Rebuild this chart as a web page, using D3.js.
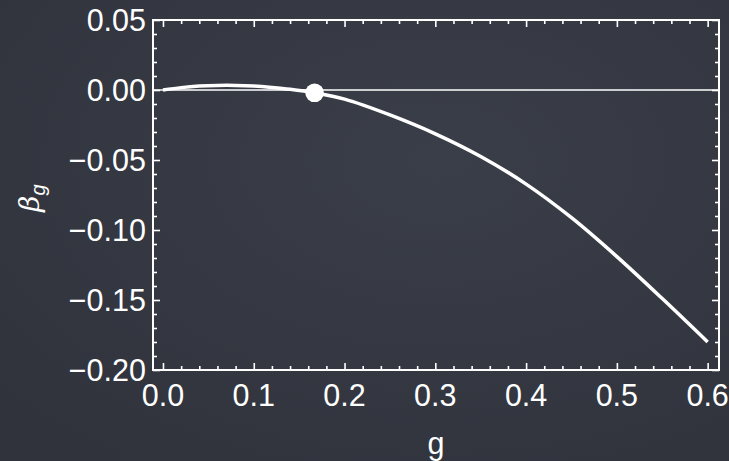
<!DOCTYPE html>
<html><head><meta charset="utf-8">
<script src="https://cdn.jsdelivr.net/npm/d3@7"></script>
<style>
html,body{margin:0;padding:0;background:#363a44;}
svg{display:block;}
</style></head>
<body>
<script>
// Data
const gValues    = [0.00, 0.02, 0.04, 0.06, 0.08, 0.10, 0.12, 0.14, 0.167, 0.20, 0.25, 0.30, 0.35, 0.40, 0.45, 0.50, 0.55, 0.60];
const betaValues = [0.000, 0.0017, 0.0028, 0.0033, 0.0033, 0.0028, 0.0018, 0.0005, -0.002, -0.0065, -0.0178, -0.0313, -0.0475, -0.0672, -0.0912, -0.1190, -0.1490, -0.1800];
const fixedPoint = [0.167, -0.002];
const xTickLabels = [0.0, 0.1, 0.2, 0.3, 0.4, 0.5, 0.6];
const yTickLabels = [0.05, 0.00, -0.05, -0.10, -0.15, -0.20];
const xLabel = "g";

const W = 729, H = 461;
const pLeft = 153, pRight = 719, pTop = 20, pBottom = 370;

const svg = d3.select("body").append("svg").attr("width", W).attr("height", H);

// chalkboard-like background
const defs = svg.append("defs");
const rg = defs.append("radialGradient").attr("id","bg").attr("cx","60%").attr("cy","35%").attr("r","80%");
rg.append("stop").attr("offset","0%").attr("stop-color","#3a3e48");
rg.append("stop").attr("offset","100%").attr("stop-color","#30333c");
svg.append("rect").attr("width", W).attr("height", H).attr("fill", "url(#bg)");

const x = d3.scaleLinear().domain([-0.0110, 0.6125]).range([pLeft, pRight]);
const y = d3.scaleLinear().domain([-0.20, 0.05]).range([pBottom, pTop]);

const white = "#ffffff";
const font = "'Liberation Sans', Arial, Helvetica, sans-serif";
const fs = 30.5;

// minor/major ticks on all four sides, pointing inward
const xMinor = d3.range(0, 0.6001, 0.02);
const yMinor = d3.range(-0.20, 0.0501, 0.01);
const isMajorX = v => Math.abs(v*10 - Math.round(v*10)) < 1e-6;
const isMajorY = v => Math.abs(v*20 - Math.round(v*20)) < 1e-6;

const gB = svg.append("g").attr("transform", `translate(0,${pBottom})`).call(d3.axisBottom(x).tickValues(xMinor).tickFormat("").tickSizeOuter(0).tickSizeInner(0));
gB.selectAll(".tick line").attr("y2", d => isMajorX(d) ? -7 : -4);
const gT = svg.append("g").attr("transform", `translate(0,${pTop})`).call(d3.axisTop(x).tickValues(xMinor).tickFormat("").tickSizeOuter(0).tickSizeInner(0));
gT.selectAll(".tick line").attr("y2", d => isMajorX(d) ? 7 : 4);
const gL = svg.append("g").attr("transform", `translate(${pLeft},0)`).call(d3.axisLeft(y).tickValues(yMinor).tickFormat("").tickSizeOuter(0).tickSizeInner(0));
gL.selectAll(".tick line").attr("x2", d => isMajorY(d) ? 7 : 4);
const gR = svg.append("g").attr("transform", `translate(${pRight},0)`).call(d3.axisRight(y).tickValues(yMinor).tickFormat("").tickSizeOuter(0).tickSizeInner(0));
gR.selectAll(".tick line").attr("x2", d => isMajorY(d) ? -7 : -4);
[gB,gT,gL,gR].forEach(g => {
  g.select(".domain").remove();
  g.selectAll(".tick line").attr("stroke", white).attr("stroke-width", 1.6);
});

// frame
svg.append("rect").attr("x", pLeft).attr("y", pTop).attr("width", pRight-pLeft).attr("height", pBottom-pTop)
  .attr("fill","none").attr("stroke", white).attr("stroke-width", 2);

// tick labels
svg.append("g").selectAll("text").data(xTickLabels).join("text")
  .attr("x", d => x(d)).attr("y", pBottom + 35.5)
  .attr("text-anchor","middle").attr("fill", white)
  .attr("font-family", font).attr("font-size", fs)
  .text(d => d3.format(".1f")(d));
svg.append("g").selectAll("text").data(yTickLabels).join("text")
  .attr("x", pLeft - 7).attr("y", d => y(d) + 10.9)
  .attr("text-anchor","end").attr("fill", white)
  .attr("font-family", font).attr("font-size", fs)
  .text(d => d3.format(".2f")(d).replace("-", "\u2212"));

// axis labels
svg.append("text").attr("x", (pLeft+pRight)/2).attr("y", 454)
  .attr("text-anchor","middle").attr("fill", white)
  .attr("font-family", font).attr("font-size", fs).text(xLabel);
const yl = svg.append("text").attr("transform", `translate(39,${(pTop+pBottom)/2+3}) rotate(-90)`)
  .attr("text-anchor","middle").attr("fill", white)
  .attr("font-family", "'DejaVu Serif', 'Liberation Serif', serif").attr("font-size", 28);
yl.append("tspan").attr("font-style","italic").text("\u03b2");
yl.append("tspan").attr("font-style","italic").attr("font-family", font).attr("font-size", 20).attr("dy", 6).text("g");

// zero line
svg.append("line").attr("x1", pLeft).attr("x2", pRight).attr("y1", y(0)).attr("y2", y(0))
  .attr("stroke", white).attr("stroke-width", 1.6);

// curve
const pts = gValues.map((g,i) => [g, betaValues[i]]);
svg.append("path").datum(pts)
  .attr("d", d3.line().x(d => x(d[0])).y(d => y(d[1])).curve(d3.curveCatmullRom.alpha(0.5)))
  .attr("fill","none").attr("stroke", white).attr("stroke-width", 3.5).attr("stroke-linecap","butt");

// fixed point
svg.append("circle").attr("cx", x(fixedPoint[0])).attr("cy", y(fixedPoint[1])).attr("r", 9.3).attr("fill", white);
</script>
</body></html>
